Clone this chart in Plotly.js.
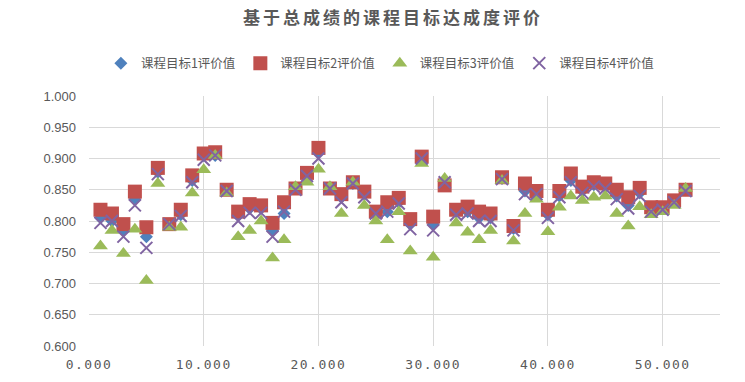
<!DOCTYPE html>
<html><head><meta charset="utf-8">
<script src="https://cdn.plot.ly/plotly-3.0.1.min.js"></script>
<style>html,body{margin:0;padding:0;background:#fff;}#chart{width:745px;height:382px;}
.xtick text{letter-spacing:1.5px;}
.gtitle{letter-spacing:3px;}
</style>
</head><body><div id="chart"></div>
<script>
const xs = [1,2,3,4,5,6,7,8,9,10,11,12,13,14,15,16,17,18,19,20,21,22,23,24,25,26,27,28,29,30,31,32,33,34,35,36,37,38,39,40,41,42,43,44,45,46,47,48,49,50,51,52];
const goal1 = [0.805,0.800,0.785,0.835,0.775,0.878,0.795,0.810,0.865,0.905,0.905,0.850,0.810,0.820,0.820,0.785,0.812,0.852,0.875,0.910,0.853,0.838,0.860,0.843,0.813,0.815,0.830,0.795,0.900,0.795,0.862,0.815,0.815,0.805,0.805,0.868,0.788,0.848,0.845,0.810,0.840,0.865,0.848,0.858,0.855,0.840,0.825,0.845,0.818,0.820,0.832,0.850];
const goal2 = [0.818,0.812,0.795,0.847,0.790,0.885,0.795,0.818,0.873,0.908,0.910,0.850,0.815,0.827,0.825,0.797,0.830,0.852,0.877,0.917,0.852,0.843,0.862,0.847,0.815,0.830,0.837,0.803,0.903,0.807,0.857,0.818,0.823,0.815,0.812,0.870,0.792,0.860,0.848,0.818,0.848,0.876,0.855,0.862,0.860,0.850,0.838,0.853,0.822,0.822,0.833,0.850];
const goal3 = [0.760,0.785,0.748,0.787,0.705,0.860,0.790,0.790,0.845,0.882,0.905,0.845,0.775,0.785,0.800,0.741,0.770,0.855,0.862,0.883,0.855,0.812,0.862,0.825,0.800,0.770,0.815,0.752,0.892,0.742,0.868,0.797,0.782,0.770,0.785,0.865,0.768,0.812,0.835,0.783,0.822,0.840,0.833,0.838,0.840,0.812,0.792,0.823,0.810,0.815,0.825,0.852];
const goal4 = [0.797,0.800,0.775,0.825,0.757,0.875,0.795,0.808,0.862,0.898,0.905,0.848,0.800,0.813,0.813,0.775,0.815,0.850,0.872,0.900,0.852,0.830,0.860,0.838,0.812,0.815,0.828,0.787,0.900,0.785,0.862,0.810,0.812,0.800,0.800,0.867,0.785,0.843,0.843,0.805,0.838,0.862,0.845,0.855,0.852,0.835,0.820,0.840,0.815,0.818,0.830,0.848];
const names = ['课程目标1评价值','课程目标2评价值','课程目标3评价值','课程目标4评价值'];
const colors = ['#4F81BD','#C0504D','#9BBB59','#8064A2'];
const xTicks = [0,10,20,30,40,50];
const yTicks = [0.6,0.65,0.7,0.75,0.8,0.85,0.9,0.95,1.0];

const traces = [
  {x: xs, y: goal1, name: names[0], type:'scatter', mode:'markers', marker:{symbol:'diamond', size:10, color:colors[0]}},
  {x: xs, y: goal2, name: names[1], type:'scatter', mode:'markers', marker:{symbol:'square', size:14, color:colors[1]}},
  {x: xs, y: goal3, name: names[2], type:'scatter', mode:'markers', marker:{symbol:'triangle-up', size:13, color:colors[2]}},
  {x: xs, y: goal4, name: names[3], type:'scatter', mode:'markers', marker:{symbol:'x-thin-open', size:12, color:colors[3], line:{width:2, color:colors[3]}}}
];
const layout = {
  width:745, height:382,
  margin:{l:89, r:25, t:96, b:36},
  paper_bgcolor:'#fff', plot_bgcolor:'#fff',
  font:{family:'"Noto Sans CJK SC", "Liberation Sans", sans-serif', color:'#595959', size:12},
  title:{text:'<b>基于总成绩的课程目标达成度评价</b>', x:0.5275, xanchor:'center', y:0.953, yanchor:'middle', font:{size:17, color:'#595959', family:'"Noto Sans CJK SC", sans-serif'}},
  showlegend:true,
  legend:{orientation:'h', x:0.461, xanchor:'center', y:1.13, yanchor:'middle', font:{size:12.5, color:'#595959'}, itemwidth:30, tracegroupgap:0},
  xaxis:{range:[0,55], tickvals:xTicks, tickformat:'.3f', showgrid:true, gridcolor:'#d9d9d9', gridwidth:1, zeroline:false, showline:false, ticks:'', ticklabelstandoff:9, tickfont:{family:'"DejaVu Sans Mono", monospace', size:13, color:'#595959'}},
  yaxis:{range:[0.6,1.0], tickvals:yTicks, tickformat:'.3f', showgrid:true, gridcolor:'#d9d9d9', gridwidth:1, zeroline:false, showline:false, ticks:'', ticklabelstandoff:12, tickfont:{family:'"Liberation Sans Narrow", "Liberation Sans", sans-serif', size:13, color:'#595959'}}
};
Plotly.newPlot('chart', traces, layout, {displayModeBar:false, staticPlot:true});
</script></body></html>
